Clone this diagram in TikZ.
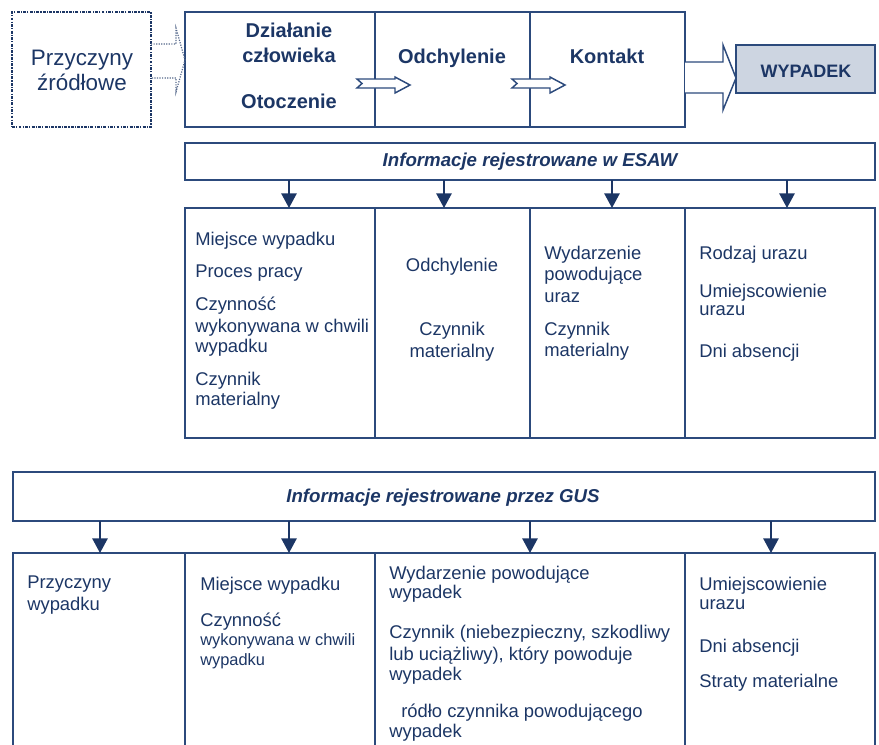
\documentclass[tikz,border=0pt]{standalone}
\usepackage{fontspec}
\setmainfont{Liberation Sans}
\usetikzlibrary{arrows.meta}
\definecolor{navy}{HTML}{1C3665}
\definecolor{lin}{HTML}{2C4A7C}
\definecolor{wypfill}{HTML}{CDD5E1}
\newcommand\bx[6]{\node[box,#6,minimum width=(#4-#2)*0.75pt,minimum height=(#5-#3)*0.75pt] (#1) at (#2,#3) {};}
\begin{document}
\begin{tikzpicture}[x=0.75pt,y=-0.75pt,
 box/.style={draw=lin,line width=1.3pt,anchor=north west,inner sep=0pt,outer sep=0pt},
 reg/.style={anchor=base west,inner sep=0pt,text=navy,font=\fontsize{13.8}{16}\selectfont},
 regc/.style={reg,anchor=base},
 sml/.style={reg,font=\fontsize{12.3}{14}\selectfont},
 big/.style={anchor=base,inner sep=0pt,text=navy,font=\fontsize{16.8}{19}\selectfont},
 bld/.style={anchor=base,inner sep=0pt,text=navy,font=\fontsize{15}{18}\selectfont\bfseries},
 hdr/.style={anchor=base,inner sep=0pt,text=navy,font=\fontsize{14}{17}\selectfont\bfseries\itshape},
 dn/.style={draw=navy,line width=1.3pt,-{Triangle[width=11.5pt,length=11pt]}},
 barrow/.style={draw=lin,line width=1.1pt,fill=white,line join=miter}
]
\clip (0,0) rectangle (879,744);
% ---------- top row ----------
\bx{src}{12}{12}{151}{127}{draw=navy,line width=1.5pt,dash pattern=on 2.2pt off 0.9pt on 0.9pt off 0.9pt}
\bx{a1}{185}{12}{375}{127}{}
\bx{a2}{375}{12}{530}{127}{}
\bx{a3}{530}{12}{685}{127}{}
\bx{wyp}{736}{45}{875}{93}{fill=wypfill}

\node[big] (t01) at (82,65) {Przyczyny};
\node[big] (t02) at (82,90) {źródłowe};
\node[bld] (t03) at (289,37) {Działanie};
\node[bld] (t04) at (289,62) {człowieka};
\node[bld] (t05) at (289,108) {Otoczenie};
\node[bld] (t06) at (452,63) {Odchylenie};
\node[bld] (t07) at (607,63) {Kontakt};
\node[bld,font=\fontsize{13.5}{16}\selectfont\bfseries] (t08) at (806,77) {WYPADEK};

% dotted arrow
\draw[draw=navy!75,line width=0.9pt,densely dotted]
  (151,44) -- (176,44) -- (176,28) -- (185,60) -- (176,92) -- (176,78) -- (151,78);
% small block arrows
\draw[barrow] (357,79) -- (395,79) -- (395,77) -- (410,85) -- (395,93) -- (395,88) -- (357,88) -- (362,83.5) -- cycle;
\draw[barrow] (512,79) -- (550,79) -- (550,77) -- (565,85) -- (550,93) -- (550,88) -- (512,88) -- (517,83.5) -- cycle;
% big block arrow
\draw[barrow] (685,62) -- (723,62) -- (723,45) -- (736,78) -- (723,110) -- (723,93) -- (685,93);

% ---------- ESAW ----------
\bx{esaw}{185}{143}{875}{180}{}
\node[hdr] (t10) at (530,166) {Informacje rejestrowane w ESAW};
\bx{e1}{185}{208}{375}{438}{}
\bx{e2}{375}{208}{530}{438}{}
\bx{e3}{530}{208}{685}{438}{}
\bx{e4}{685}{208}{875}{438}{}
\draw[dn] (esaw.south -| 289,0) -- (e1.north -| 289,0);
\draw[dn] (esaw.south -| 444,0) -- (e2.north -| 444,0);
\draw[dn] (esaw.south -| 612,0) -- (e3.north -| 612,0);
\draw[dn] (esaw.south -| 787,0) -- (e4.north -| 787,0);

\node[reg] (e1a) at (195,245) {Miejsce wypadku};
\node[reg] (e1b) at (195,277) {Proces pracy};
\node[reg] (e1c) at (195,310) {Czynność};
\node[reg] (e1d) at (195,332) {wykonywana w chwili};
\node[reg] (e1e) at (195,352) {wypadku};
\node[reg] (e1f) at (195,385) {Czynnik};
\node[reg] (e1g) at (195,405) {materialny};

\node[regc] (e2a) at (452,271) {Odchylenie};
\node[regc] (e2b) at (452,335) {Czynnik};
\node[regc] (e2c) at (452,357) {materialny};

\node[reg] (e3a) at (544,259) {Wydarzenie};
\node[reg] (e3b) at (544,280) {powodujące};
\node[reg] (e3c) at (544,302) {uraz};
\node[reg] (e3d) at (544,335) {Czynnik};
\node[reg] (e3e) at (544,356) {materialny};

\node[reg] (e4a) at (699,259) {Rodzaj urazu};
\node[reg] (e4b) at (699,297) {Umiejscowienie};
\node[reg] (e4c) at (699,315) {urazu};
\node[reg] (e4d) at (699,357) {Dni absencji};

% ---------- GUS ----------
\bx{gus}{13}{472}{875}{521}{}
\node[hdr] (t20) at (443,502) {Informacje rejestrowane przez GUS};
\bx{g1}{13}{553}{185}{770}{}
\bx{g2}{185}{553}{375}{770}{}
\bx{g3}{375}{553}{685}{770}{}
\bx{g4}{685}{553}{875}{770}{}
\draw[dn] (gus.south -| 100,0) -- (g1.north -| 100,0);
\draw[dn] (gus.south -| 289,0) -- (g2.north -| 289,0);
\draw[dn] (gus.south -| 530,0) -- (g3.north -| 530,0);
\draw[dn] (gus.south -| 771,0) -- (g4.north -| 771,0);

\node[reg] (g1a) at (27,588) {Przyczyny};
\node[reg] (g1b) at (27,610) {wypadku};

\node[reg] (g2a) at (200,590) {Miejsce wypadku};
\node[reg] (g2b) at (200,626) {Czynność};
\node[sml] (g2c) at (200,645) {wykonywana w chwili};
\node[sml] (g2d) at (200,665) {wypadku};

\node[reg] (g3a) at (389,579) {Wydarzenie powodujące};
\node[reg] (g3b) at (389,598) {wypadek};
\node[reg] (g3c) at (389,638) {Czynnik (niebezpieczny, szkodliwy};
\node[reg] (g3d) at (389,660) {lub uciążliwy), który powoduje};
\node[reg] (g3e) at (389,680) {wypadek};
\node[reg] (g3f) at (401,717) {ródło czynnika powodującego};
\node[reg] (g3g) at (389,737) {wypadek};

\node[reg] (g4a) at (699,590) {Umiejscowienie};
\node[reg] (g4b) at (699,609) {urazu};
\node[reg] (g4c) at (699,652) {Dni absencji};
\node[reg] (g4d) at (699,687) {Straty materialne};
\end{tikzpicture}
\end{document}
